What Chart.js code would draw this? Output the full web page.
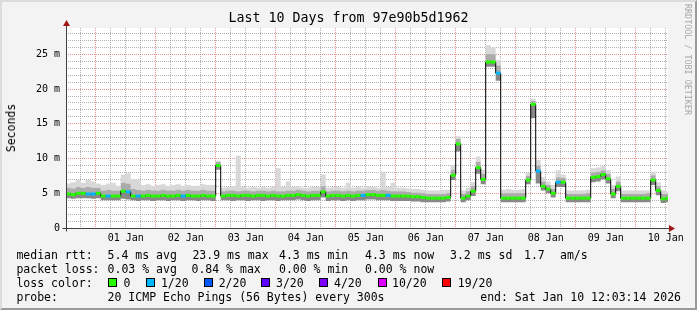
<!DOCTYPE html>
<html><head><meta charset="utf-8">
<script src="https://cdn.jsdelivr.net/npm/chart.js@4"></script>
<style>
html,body{margin:0;padding:0;background:#f3f3f3;}
#wrap{position:relative;width:697px;height:310px;overflow:hidden;}
#c{position:absolute;left:0;top:0;}
.t{position:absolute;font-family:'DejaVu Sans Mono',monospace;font-size:11.5px;color:#000;white-space:pre;line-height:14px;}
.box{position:absolute;width:7px;height:7px;border:1px solid #000;}
#frame{position:absolute;left:0;top:0;width:697px;height:310px;box-sizing:border-box;border-top:2px solid #dcdcdc;border-left:2px solid #dcdcdc;border-right:2px solid #9a9a9a;border-bottom:2px solid #9a9a9a;pointer-events:none;}
#wm{position:absolute;left:683px;top:4px;writing-mode:vertical-rl;font-family:'DejaVu Sans Mono',monospace;font-size:8.4px;color:#a8a8a8;line-height:10px;}
#ylab{position:absolute;left:11px;top:128px;transform:translate(-50%,-50%) rotate(-90deg);font-family:'DejaVu Sans Mono',monospace;font-size:11.5px;color:#000;white-space:pre;}
</style></head>
<body>
<div id="wrap">
<canvas id="c" width="697" height="310"></canvas>
<div id="ylab">Seconds</div>
<div id="wm">RRDTOOL / TOBI OETIKER</div>
<div id="legend"></div>
<div id="frame"></div>
</div>
<script>
// ---- data (2-hour samples starting Dec 31 12:00) ----
const dayLabels = ['01 Jan','02 Jan','03 Jan','04 Jan','05 Jan','06 Jan','07 Jan','08 Jan','09 Jan','10 Jan'];
const yTickValues = [0,1,2,3,4,5,6,7,8,9,10,11,12,13,14,15,16,17,18,19,20,21,22,23,24,25,26,27,28];
// median rtt (ms)
const medianRtt = [
 4.9,4.8,5.0,5.0,4.9,4.9,5.0,4.6,4.6,4.6,
 4.6,5.3,5.2,4.6,4.6,4.6,4.7,4.6,4.6,4.7,
 4.6,4.6,4.7,4.6,4.7,4.6,4.6,4.7,4.6,4.6,
 9.0,4.6,4.7,4.7,4.6,4.7,4.7,4.6,4.7,4.7,
 4.6,4.7,4.6,4.6,4.7,4.7,4.8,4.7,4.6,4.7,
 4.7,5.2,4.6,4.7,4.7,4.6,4.7,4.6,4.7,4.7,
 4.8,4.8,4.7,4.7,4.7,4.6,4.6,4.6,4.6,4.5,
 4.5,4.4,4.3,4.3,4.3,4.3,4.4,7.6,12.1,4.3,
 4.6,5.3,8.7,7.0,23.9,23.9,22.3,4.3,4.3,4.3,
 4.3,4.3,6.9,17.8,8.2,6.0,5.6,5.0,6.6,6.6,
 4.3,4.3,4.3,4.3,4.3,7.3,7.4,7.7,7.1,4.9,
 6.0,4.3,4.3,4.3,4.3,4.3,4.3,6.9,5.4,4.2,
 4.3,4.3];
// lost pings out of 20
const lossCount = [
 0,0,0,0,1,1,0,0,1,0, 0,0,1,0,1,0,0,0,0,0, 0,0,0,1,0,0,0,0,0,0,
 0,0,0,0,0,0,0,0,0,0, 0,0,0,0,0,0,0,0,0,0, 0,0,0,0,0,0,0,0,0,1,
 0,0,0,0,1,0,0,0,0,0, 0,0,0,0,0,0,0,0,0,0, 0,0,0,0,0,0,1,0,0,0,
 0,0,0,0,1,0,0,0,1,0, 0,0,0,0,0,0,0,0,0,0, 0,0,0,0,0,0,0,0,0,0,
 0,0];
// smoke: lowest ping, upper core, highest ping (ms)
const smokeLow = [
 4.3,4.2,4.3,4.3,4.3,4.2,4.3,4.0,4.0,4.0,
 4.0,4.2,4.1,4.0,3.9,4.0,4.0,3.9,4.0,4.0,
 3.9,4.0,4.0,3.9,4.0,4.0,3.9,4.0,4.0,3.9,
 8.4,4.0,4.0,3.9,4.0,4.0,3.9,4.0,4.0,3.9,
 4.0,4.0,3.9,4.0,4.0,4.0,4.1,4.0,3.9,4.0,
 4.0,4.4,3.9,4.0,4.0,3.9,4.0,3.9,4.0,4.0,
 4.1,4.1,4.0,4.0,4.0,3.9,3.9,3.9,3.9,3.8,
 3.8,3.7,3.7,3.7,3.7,3.7,3.8,6.9,11.0,3.7,
 4.0,4.6,7.8,6.3,23.2,23.2,21.2,3.7,3.7,3.7,
 3.7,3.7,6.3,15.8,6.4,5.4,5.0,4.4,5.9,5.9,
 3.7,3.7,3.7,3.7,3.7,6.6,6.7,7.0,6.4,4.3,
 5.3,3.7,3.7,3.7,3.7,3.7,3.7,6.2,4.7,3.6,
 3.7,3.7];
const smokeCore = [
 5.8,5.7,5.9,5.8,5.9,5.8,5.8,5.4,5.5,5.4,
 5.4,6.5,6.4,5.6,5.5,5.4,5.5,5.4,5.4,5.5,
 5.4,5.4,5.5,5.4,5.5,5.4,5.4,5.5,5.4,5.4,
 9.5,5.3,5.4,5.4,5.3,5.4,5.4,5.3,5.4,5.4,
 5.3,5.4,5.3,5.3,5.4,5.4,5.5,5.4,5.3,5.4,
 5.4,6.0,5.3,5.4,5.4,5.3,5.4,5.3,5.4,5.4,
 5.5,5.5,5.4,5.5,5.4,5.3,5.3,5.3,5.2,5.1,
 5.1,5.0,4.9,4.9,4.9,4.9,5.0,8.4,12.8,4.9,
 5.3,6.0,9.5,7.8,25.0,25.0,23.4,5.0,5.0,5.0,
 5.0,5.0,7.5,18.3,9.0,6.7,6.2,5.6,7.3,7.2,
 4.9,4.9,4.9,4.9,5.0,8.0,8.1,8.3,7.8,5.6,
 6.7,4.9,4.9,4.9,4.9,4.9,5.0,7.6,6.0,4.9,
 4.9,4.9];
const smokeHigh = [
 6.4,6.6,6.9,6.5,6.9,6.7,6.4,6.2,6.4,6.5,
 6.1,7.7,7.9,7.0,7.0,6.2,6.3,6.1,6.2,6.3,
 6.1,6.2,6.3,6.1,6.2,6.0,6.1,6.3,6.2,6.2,
 9.7,5.8,5.9,6.0,10.4,5.9,5.8,5.9,5.8,5.9,
 5.8,5.9,8.6,5.9,6.7,5.9,6.0,5.8,5.8,5.9,
 5.9,7.7,5.8,5.9,5.9,5.8,6.5,5.8,5.9,5.8,
 6.0,5.9,5.8,8.1,5.9,6.5,5.8,5.8,5.7,5.6,
 5.6,5.5,5.4,5.4,5.4,5.5,5.5,9.0,13.2,5.4,
 5.8,6.6,10.3,8.4,26.3,26.0,24.2,5.5,5.6,5.5,
 5.5,5.6,8.0,18.6,9.8,7.3,6.7,6.2,8.3,7.7,
 5.4,5.4,5.4,5.4,5.5,8.6,8.7,8.9,8.3,6.2,
 7.4,5.4,5.4,5.4,5.4,5.4,5.4,8.1,6.6,5.4,
 5.3,5.3];
const lossLevels = [0,1,2,3,4,10,19];
const lossLabels = ['0','1/20','2/20','3/20','4/20','10/20','19/20'];
const lossColors = ['#26ff00','#00b8ff','#0059ff','#5e00ff','#7e00ff','#dd00ff','#ff0000'];

// ---- helpers ----
const hours = medianRtt.map((_, i) => 12 + 2 * i); // hours since Dec 31 00:00
function colorForLoss(l){ let c = lossColors[0]; lossLevels.forEach((lv,k)=>{ if (l >= lv) c = lossColors[k]; }); return c; }
const pts = arr => arr.map((v,i) => ({x: hours[i], y: v}));
const stepLine = (arr, extra) => Object.assign({
  data: pts(arr), stepped: 'before', pointRadius: 0, borderWidth: 1,
  borderColor: 'rgba(0,0,0,0)', tension: 0
}, extra);

// legend (HTML text)
const legend = document.getElementById('legend');
function addText(x, y, s, right){ const d=document.createElement('div'); d.className='t'; d.textContent=s; d.style.top=(y-7)+'px'; if(right){d.style.right=x+'px';} else {d.style.left=x+'px';} legend.appendChild(d); }
const row1 = [[16.4,'median rtt:'],[107.6,'5.4 ms avg'],[192.4,'23.9 ms max'],[279,'4.3 ms min'],[365,'4.3 ms now'],[450,'3.2 ms sd'],[524,'1.7'],[560,'am/s']];
const row2 = [[16.4,'packet loss:'],[107.6,'0.03 % avg'],[191.5,'0.84 % max'],[279,'0.00 % min'],[365,'0.00 % now']];
row1.forEach(([x,s])=>addText(x,254.5,s));
row2.forEach(([x,s])=>addText(x,268.5,s));
addText(16.4,282.5,'loss color:');
const boxX = [108,146,203.6,261,319,378,442];
const labX = [123.6,160.9,218.7,276,334,392,457.8];
lossLabels.forEach((s,k)=>{ const b=document.createElement('div'); b.className='box'; b.style.left=boxX[k]+'px'; b.style.top='278px'; b.style.background=lossColors[k]; legend.appendChild(b); addText(labX[k],282.5,s); });
addText(16.4,296.5,'probe:');
addText(107.6,296.5,'20 ICMP Echo Pings (56 Bytes) every 300s');
addText(16,296.5,'end: Sat Jan 10 12:03:14 2026', true);

const FONT = "'DejaVu Sans Mono', monospace";
const decor = {
  id: 'decor',
  beforeDraw(chart){
    const {ctx, chartArea:a} = chart;
    ctx.save();
    ctx.fillStyle = '#f3f3f3'; ctx.fillRect(0,0,chart.width,chart.height);
    ctx.fillStyle = '#ffffff'; ctx.fillRect(a.left, a.top, a.right-a.left, a.bottom-a.top);
    ctx.restore();
  },
  afterDraw(chart){
    const {ctx, chartArea:a} = chart;
    const x0 = Math.round(a.left) + 0.5, y0 = Math.round(a.bottom) + 0.5;
    ctx.save();
    ctx.strokeStyle = '#404040'; ctx.lineWidth = 1;
    ctx.beginPath();
    ctx.moveTo(x0 - 4, y0); ctx.lineTo(a.right + 2, y0);
    ctx.moveTo(x0, y0 + 3); ctx.lineTo(x0, a.top - 3);
    ctx.stroke();
    ctx.fillStyle = '#a01818';
    ctx.beginPath();
    ctx.moveTo(a.right + 1, y0 - 3.5); ctx.lineTo(a.right + 7, y0); ctx.lineTo(a.right + 1, y0 + 3.5); ctx.closePath(); ctx.fill();
    ctx.beginPath();
    ctx.moveTo(x0 - 3.5, a.top - 2); ctx.lineTo(x0, a.top - 8); ctx.lineTo(x0 + 3.5, a.top - 2); ctx.closePath(); ctx.fill();
    ctx.restore();
  }
};

const minorGrid = 'rgba(150,150,150,0.75)';
const majorGrid = 'rgba(225,110,110,0.75)';

new Chart(document.getElementById('c'), {
  type: 'line',
  data: { datasets: [
    { data: medianRtt.map((v,i)=>({x: hours[i] + 1, y: v})), showLine: false,
      pointStyle: 'line', pointRadius: 2.4, pointHoverRadius: 2.4, pointBorderWidth: 3,
      pointBorderColor: lossCount.map(colorForLoss), pointBackgroundColor: lossCount.map(colorForLoss) },
    stepLine(medianRtt, { borderColor: '#000000', borderWidth: 1, fill: 4, backgroundColor: '#888888' }),
    stepLine(smokeCore, { fill: 1, backgroundColor: '#ababab' }),
    stepLine(smokeHigh, { fill: 2, backgroundColor: '#d8d8d8' }),
    stepLine(smokeLow, { fill: false })
  ]},
  options: {
    responsive: false, animation: false, devicePixelRatio: 1,
    layout: { padding: { left: 0, right: 0, top: 0, bottom: 62 } },
    plugins: {
      legend: { display: false }, tooltip: { enabled: false },
      title: { display: true, text: 'Last 10 Days from 97e90b5d1962', color: '#000',
        font: { family: FONT, size: 13.3, weight: 'normal', lineHeight: 1.2 },
        padding: { top: 11, bottom: 1 } }
    },
    scales: {
      x: {
        type: 'linear', min: 12.12, max: 252.92,
        afterFit: s => { s.height = 20; },
        afterBuildTicks: s => { const t=[]; for (let h=18; h<=252; h+=6) t.push({value:h}); s.ticks = t; },
        ticks: { autoSkip: false, maxRotation: 0, padding: 4, color: '#000',
          font: { family: FONT, size: 10 },
          callback: v => (v % 24 === 12) ? dayLabels[(v - 36) / 24] || '' : '' },
        grid: { drawTicks: false, lineWidth: 1,
          color: c => (c.tick && c.tick.value % 24 === 0) ? majorGrid : minorGrid },
        border: { display: false, dash: [1,1] }
      },
      y: {
        type: 'linear', min: 0, max: 28.8,
        afterFit: s => { s.width = 66; },
        afterBuildTicks: s => { s.ticks = yTickValues.map(v => ({value: v})); },
        ticks: { autoSkip: false, padding: 6, color: '#000',
          font: { family: FONT, size: 10 },
          callback: v => (v % 5 === 0) ? (v === 0 ? '0' : v + ' m') : '' },
        grid: { drawTicks: false, lineWidth: 1,
          color: c => (c.tick && c.tick.value === 0) ? 'rgba(0,0,0,0)' : (c.tick && c.tick.value % 5 === 0 ? majorGrid : minorGrid) },
        border: { display: false, dash: [1,1] }
      },
      yRight: {
        type: 'linear', position: 'right', display: true, min: 0, max: 1,
        afterFit: s => { s.width = 29; },
        ticks: { display: false }, grid: { display: false }, border: { display: false }
      }
    }
  },
  plugins: [decor]
});
</script>
</body></html>
